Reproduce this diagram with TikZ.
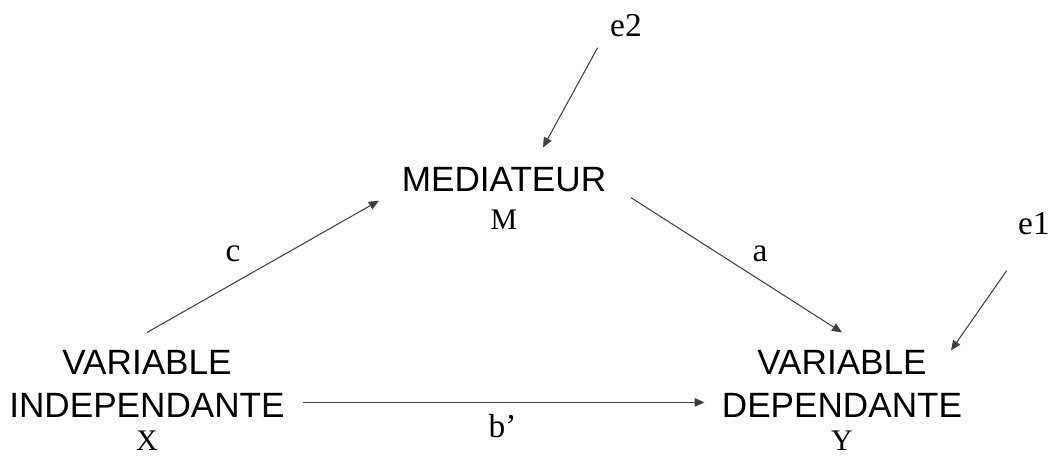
\documentclass[tikz,border=0pt]{standalone}
\usepackage{fontspec}
\setmainfont{Liberation Serif}
\setsansfont{Liberation Sans}
\usetikzlibrary{arrows.meta}
\tikzset{
  var/.style = {inner sep = 0pt, anchor = base, font = \sffamily\fontsize{20}{24}\selectfont},
  sym/.style = {inner sep = 0pt, anchor = base, font = \fontsize{17}{20}\selectfont},
  coef/.style = {inner sep = 0pt, anchor = base, font = \fontsize{19}{22}\selectfont},
  link/.style = {draw = black!75, line width = .6pt,
                 -{Triangle[length = 2mm, width = 1.7mm]}}
}
\begin{document}
\begin{tikzpicture}
  \useasboundingbox (0,0) rectangle (21,9.12);
  \node [var] (med) at (10.08,5.28) {MEDIATEUR};
  \node [sym] (m) at (10.08,4.52) {M};
  \node [var] (vi) at (2.94,1.62) {VARIABLE};
  \node [var] (ind) at (2.94,.76) {INDEPENDANTE};
  \node [sym] (x) at (2.94,.1) {X};
  \node [var] (vd) at (16.84,1.62) {VARIABLE};
  \node [var] (dep) at (16.84,.76) {DEPENDANTE};
  \node [sym] (y) at (16.84,.1) {Y};
  \node [coef] (e2) at (12.52,8.38) {e2};
  \node [coef] (e1) at (20.68,4.42) {e1};
  \node [coef] (c) at (4.66,3.88) {c};
  \node [coef] (a) at (15.2,3.88) {a};
  \node [coef] (b) at (10.05,.36) {b’};
  \draw [link] ([yshift = 3.6mm]vi.north) -- ([shift = {(-4.5mm,-1.6mm)}]med.south west);
  \draw [link] ([shift = {(4.9mm,-1mm)}]med.south east) -- ([yshift = 3.6mm]vd.north);
  \draw [link] ([shift = {(3.5mm,.7mm)}]ind.east) -- ([shift = {(-3.4mm,.7mm)}]dep.west);
  \draw [link] ([shift = {(-2.45mm,-2mm)}]e2.south west) -- ([shift = {(7.8mm,4mm)}]med.north);
  \draw [link] ([shift = {(-2.25mm,-7mm)}]e1.south west) -- ([xshift = 4.8mm]vd.north east);
\end{tikzpicture}
\end{document}
